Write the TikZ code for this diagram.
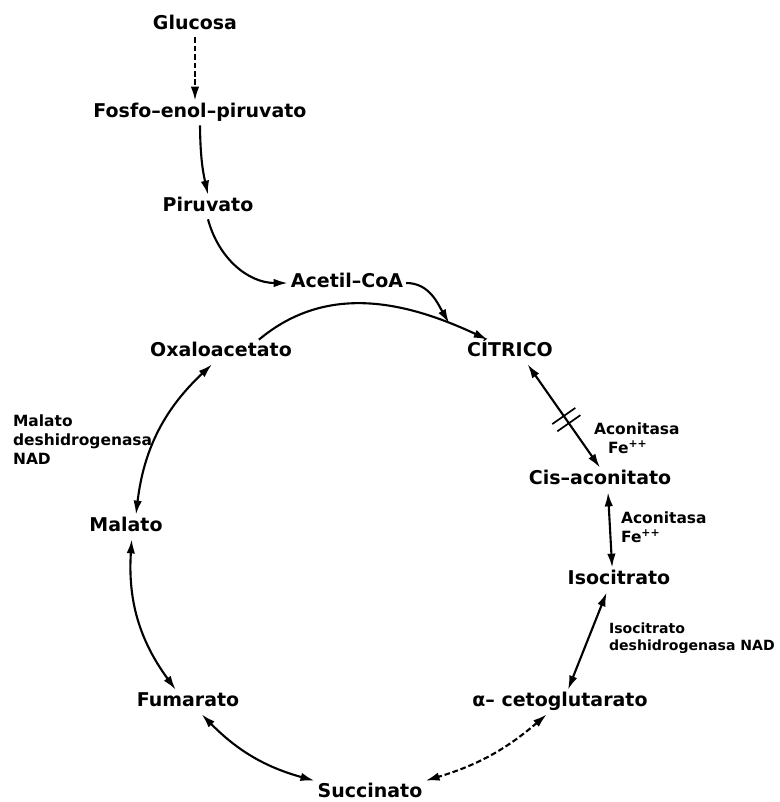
\documentclass[tikz,border=0pt]{standalone}
\usepackage{fontspec}
\setmainfont{DejaVu Sans}
\usetikzlibrary{arrows.meta}
\usetikzlibrary{calc}

\begin{document}
\begin{tikzpicture}
      [ x=0.025cm, y=0.025cm
        , line width=1.5pt
        , >={Latex[length=10pt,width=6pt]}
        , met/.style={inner sep=1.5pt, text height=10pt, text depth=3pt,
            font=\fontsize{13.5}{16}\selectfont\bfseries}
        , enz/.style={inner sep=0pt, anchor=west, align=left,
            font=\fontsize{11}{13.5}\selectfont\bfseries}
        , brk/.style={line width=1.2pt}
      ]
      \useasboundingbox (0,0) rectangle (780,-802);
      \node (glu) [met] at (195,-25) {Glucosa};
      \node (fpep) [met] at (200,-113) {Fosfo--enol--piruvato};
      \node (pir) [met] at (208,-207) {Piruvato};
      \node (acoa) [met] at (347,-283) {Acetil--CoA};
      \node (cit) [met] at (510,-352) {CÍTRICO};
      \node (oxa) [met] at (221,-352) {Oxaloacetato};
      \node (cis) [met] at (600,-480) {Cis--aconitato};
      \node (iso) [met] at (619,-580) {Isocitrato};
      \node (akg) [met] at (560,-702) {α-- cetoglutarato};
      \node (suc) [met] at (370,-793) {Succinato};
      \node (fum) [met] at (188,-702) {Fumarato};
      \node (mal) [met] at (126,-527) {Malato};

      \node (mdh) [enz] at (12,-440) {Malato\\deshidrogenasa\\NAD};
      \node (acn1) [enz] at (593,-438) {Aconitasa\\\hspace*{10pt}Fe\textsuperscript{++}};
      \node (acn2) [enz] at (620,-527) {Aconitasa\\Fe\textsuperscript{++}};
      \node (idh) [enz, font=\fontsize{10}{12.5}\selectfont\bfseries] at (608,-638)
        {Isocitrato\\deshidrogenasa NAD};

      \draw[->, dash pattern=on 4pt off 2pt] (glu.south) -- (glu.south |- fpep.north);
      \draw[->] (fpep.south) to [bend right=6] (pir.north);
      \draw[->] (pir.south) to [out=-75, in=180] (acoa.west);
      \draw[->] (oxa.18) to [out=40, in=155] coordinate[pos=.84] (join) (cit.151);
      \draw[->] (acoa.east) to [out=0, in=120] (join);

      \draw[<->] (cit.-35) -- (cis.north);
      \path (cit.-35) -- (cis.north) coordinate[pos=.5] (brk1) coordinate[pos=.57] (brk2);
      \draw[brk] ($(brk1)!10pt!90:(brk2)$) -- ($(brk1)!10pt!-90:(brk2)$);
      \draw[brk] ($(brk2)!10pt!90:(brk1)$) -- ($(brk2)!10pt!-90:(brk1)$);
      \draw[<->] (cis.-57) -- (iso.119);
      \draw[<->] (iso.-135) -- (akg.57);
      \draw[<->, dash pattern=on 4pt off 2pt] (akg.-137) to [bend left=12] (suc.north east);
      \draw[<->] (suc.north west) to [bend left=15] (fum.-42);
      \draw[<->] (fum.135) to [bend left=20] (mal.-65);
      \draw[<->] (mal.51) to [bend left=20] (oxa.-126);

    \end{tikzpicture}
\end{document}
